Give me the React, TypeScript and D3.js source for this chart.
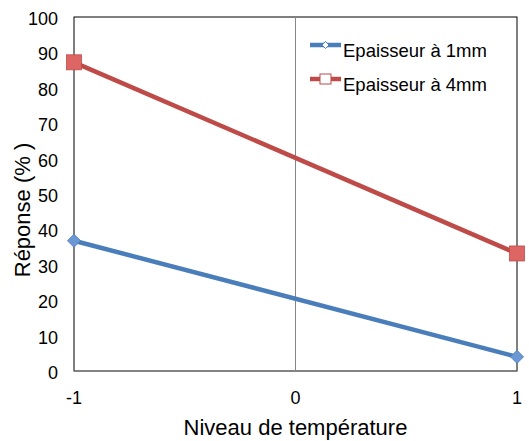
import React, { useEffect, useRef } from 'react';
import * as d3 from 'd3';

const levels = [-1, 1];
const series1mm = [36.8, 4.0];
const series4mm = [87.2, 33.2];
const seriesNames = ['Epaisseur à 1mm', 'Epaisseur à 4mm'];
const seriesColors = ['#4a7ebb', '#be4b48'];
const yTicks = [0, 10, 20, 30, 40, 50, 60, 70, 80, 90, 100];
const xTicks = [-1, 0, 1];

const App: React.FC = () => {
  const svgRef = useRef<SVGSVGElement | null>(null);

  useEffect(() => {
    if (!svgRef.current) return;
    const svg = d3.select(svgRef.current);
    svg.selectAll('*').remove();

    const margin = { top: 17, right: 12, bottom: 70, left: 74 };
    const width = 529;
    const height = 441;

    const x = d3.scaleLinear().domain([-1, 1]).range([margin.left, width - margin.right]);
    const y = d3.scaleLinear().domain([0, 100]).range([height - margin.bottom, margin.top]);

    const font = 'Liberation Sans, Arial, sans-serif';

    // plot border
    svg
      .append('rect')
      .attr('x', x(-1))
      .attr('y', y(100))
      .attr('width', x(1) - x(-1))
      .attr('height', y(0) - y(100))
      .attr('fill', 'none')
      .attr('stroke', '#000')
      .attr('stroke-width', 1);

    // vertical line at 0
    svg
      .append('line')
      .attr('x1', x(0))
      .attr('x2', x(0))
      .attr('y1', y(0))
      .attr('y2', y(100))
      .attr('stroke', '#868686')
      .attr('stroke-width', 1);

    // bottom axis line
    svg
      .append('line')
      .attr('x1', x(-1))
      .attr('x2', x(1))
      .attr('y1', y(0))
      .attr('y2', y(0))
      .attr('stroke', '#868686');

    // y tick labels
    svg
      .append('g')
      .selectAll('text')
      .data(yTicks)
      .enter()
      .append('text')
      .attr('x', x(-1) - 16)
      .attr('y', (d) => y(d) + 8)
      .attr('text-anchor', 'end')
      .attr('font-family', font)
      .attr('font-size', 18)
      .text((d) => d);

    // x tick labels
    svg
      .append('g')
      .selectAll('text')
      .data(xTicks)
      .enter()
      .append('text')
      .attr('x', (d) => x(d))
      .attr('y', y(0) + 33)
      .attr('text-anchor', 'middle')
      .attr('font-family', font)
      .attr('font-size', 18)
      .text((d) => d);

    // axis titles
    svg
      .append('text')
      .attr('x', (x(-1) + x(1)) / 2)
      .attr('y', 435)
      .attr('text-anchor', 'middle')
      .attr('font-family', font)
      .attr('font-size', 22)
      .text('Niveau de température');
    svg
      .append('text')
      .attr('transform', `translate(30, 210) rotate(-90)`)
      .attr('text-anchor', 'middle')
      .attr('font-family', font)
      .attr('font-size', 22)
      .attr('xml:space', 'preserve')
      .text('Réponse (% )');

    const data = [series1mm, series4mm];
    const line = d3
      .line<number>()
      .x((_, i) => x(levels[i]))
      .y((d) => y(d));

    data.forEach((vals, si) => {
      svg
        .append('path')
        .datum(vals)
        .attr('d', line)
        .attr('fill', 'none')
        .attr('stroke', seriesColors[si])
        .attr('stroke-width', 4.5);
    });

    // markers
    const diamond = d3.symbol().type(d3.symbolDiamond2).size(110);
    svg
      .append('g')
      .selectAll('path')
      .data(series1mm)
      .enter()
      .append('path')
      .attr('d', diamond)
      .attr('transform', (d, i) => `translate(${x(levels[i])},${y(d)})`)
      .attr('fill', '#6b98d4')
      .attr('stroke', '#4a7ebb')
      .attr('stroke-width', 0.8);
    svg
      .append('g')
      .selectAll('rect')
      .data(series4mm)
      .enter()
      .append('rect')
      .attr('x', (d, i) => x(levels[i]) - 7.5)
      .attr('y', (d) => y(d) - 7.5)
      .attr('width', 15)
      .attr('height', 15)
      .attr('fill', '#dd6563')
      .attr('stroke', '#be4b48')
      .attr('stroke-width', 0.8);

    // legend
    const legend = svg.append('g').attr('transform', 'translate(310, 45)');
    seriesNames.forEach((name, i) => {
      const g = legend.append('g').attr('transform', `translate(0, ${i * 34})`);
      g.append('line')
        .attr('x1', 0)
        .attr('x2', 31)
        .attr('y1', 0)
        .attr('y2', 0)
        .attr('stroke', seriesColors[i])
        .attr('stroke-width', 4.5);
      if (i === 0) {
        g.append('path')
          .attr('d', d3.symbol().type(d3.symbolDiamond2).size(32)())
          .attr('transform', 'translate(15.5,0)')
          .attr('fill', '#fff')
          .attr('stroke', seriesColors[i])
          .attr('stroke-width', 1);
      } else {
        g.append('rect')
          .attr('x', 10)
          .attr('y', -5)
          .attr('width', 11)
          .attr('height', 10)
          .attr('fill', '#fff')
          .attr('stroke', seriesColors[i])
          .attr('stroke-width', 1);
      }
      g.append('text')
        .attr('x', 33)
        .attr('y', 11.5)
        .attr('font-family', font)
        .attr('font-size', 18.5)
        .text(name);
    });
  }, []);

  return (
    <svg
      ref={svgRef}
      width={529}
      height={441}
      style={{ position: 'absolute', left: 0, top: 0, background: '#fff' }}
    ></svg>
  );
};

export default App;
